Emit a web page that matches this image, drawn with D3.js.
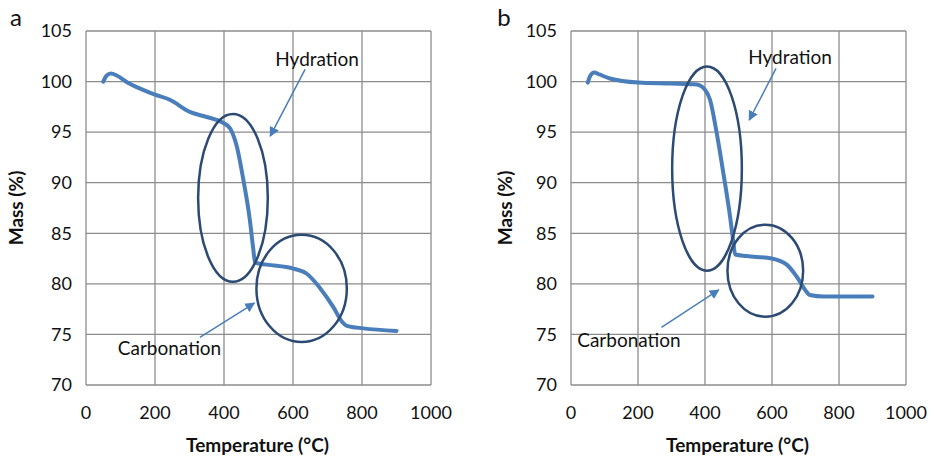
<!DOCTYPE html>
<html>
<head>
<meta charset="utf-8">
<script src="https://cdn.jsdelivr.net/npm/d3@7"></script>
<style>
  body { margin: 0; background: #fff; }
  svg { font-family: Lato, "Open Sans", sans-serif; }
</style>
</head>
<body>
<svg id="chart" width="934" height="459"></svg>
<script>
const xTicks = [0, 200, 400, 600, 800, 1000];
const yTicks = [70, 75, 80, 85, 90, 95, 100, 105];

// panel a: temperature (°C) and mass (%)
const tempA = [50, 60, 72, 89, 120, 157, 200, 243, 301, 350, 393, 417, 437, 456, 475, 485, 490, 524, 601, 640, 678, 717, 741, 756, 804, 900];
const massA = [100, 100.6, 100.8, 100.6, 99.9, 99.3, 98.7, 98.2, 97.0, 96.5, 96.0, 95.4, 93.6, 90.3, 86.3, 83.4, 82.1, 81.9, 81.5, 81.0, 79.6, 77.7, 76.3, 75.85, 75.6, 75.35];

// panel b
const tempB = [50, 58, 69, 85, 116, 201, 296, 375, 400, 415, 435, 455, 475, 484, 490, 524, 599, 644, 674, 699, 713, 753, 900];
const massB = [99.9, 100.6, 100.9, 100.7, 100.3, 99.9, 99.8, 99.7, 99.2, 98.2, 94.9, 90.9, 86.6, 84.3, 82.9, 82.75, 82.5, 81.9, 80.7, 79.4, 78.9, 78.75, 78.75];

// ellipses: [centre T, centre M, radius T, radius M]
const ringsA = [[426, 88.5, 101, 8.3], [625, 79.55, 131, 5.3]];
const ringsB = [[406, 91.4, 104, 10.1], [580, 81.3, 113, 4.55]];

// notes: text, text T, text M, arrow from [T, M] to [T, M]
const notesA = [
  ["Hydration", 670, 102.2, [635, 101.2], [534, 94.6]],
  ["Carbonation", 242, 73.6, [330, 74.7], [488, 78.1]]
];
const notesB = [
  ["Hydration", 654, 102.4, [612, 101.3], [532, 96.2]],
  ["Carbonation", 173, 74.4, [270, 75.7], [441, 79.4]]
];

const panels = [
  { tag: "a", left: 86, right: 431, t: tempA, m: massA, rings: ringsA, notes: notesA, tagX: 16, titleX: 4 },
  { tag: "b", left: 571, right: 906, t: tempB, m: massB, rings: ringsB, notes: notesB, tagX: 504, titleX: 493 }
];

const plotTop = 31, plotBottom = 385;
const grid = "#8c8c8c", lineCol = "#4a7ebb", ringCol = "#2c4a74";
const svg = d3.select("#chart");

svg.append("defs").append("marker")
  .attr("id", "arr")
  .attr("viewBox", "0 0 10 10")
  .attr("refX", 9).attr("refY", 5)
  .attr("markerWidth", 10).attr("markerHeight", 10)
  .attr("markerUnits", "userSpaceOnUse")
  .attr("orient", "auto")
  .append("path").attr("d", "M0,0L10,5L0,10z").attr("fill", lineCol);

panels.forEach(p => {
  const x = d3.scaleLinear().domain([0, 1000]).range([p.left, p.right]);
  const y = d3.scaleLinear().domain([70, 105]).range([plotBottom, plotTop]);
  const g = svg.append("g");

  g.selectAll(".vg").data(xTicks).enter().append("line")
    .attr("x1", d => x(d)).attr("x2", d => x(d))
    .attr("y1", plotTop).attr("y2", plotBottom)
    .attr("stroke", grid).attr("stroke-width", 1.3);
  g.selectAll(".hg").data(yTicks).enter().append("line")
    .attr("x1", p.left).attr("x2", p.right)
    .attr("y1", d => y(d)).attr("y2", d => y(d))
    .attr("stroke", grid).attr("stroke-width", 1.3);

  g.selectAll(".yl").data(yTicks).enter().append("text")
    .attr("x", p.left - 14).attr("y", d => y(d))
    .attr("dy", "0.35em").attr("text-anchor", "end")
    .attr("font-size", 18).attr("fill", "#111")
    .text(d => d);
  g.selectAll(".xl").data(xTicks).enter().append("text")
    .attr("x", d => x(d)).attr("y", plotBottom + 28)
    .attr("dy", "0.35em").attr("text-anchor", "middle")
    .attr("font-size", 18).attr("fill", "#111")
    .text(d => d);

  g.append("text")
    .attr("x", (p.left + p.right) / 2 - 1).attr("y", 445)
    .attr("dy", "0.35em").attr("text-anchor", "middle")
    .attr("font-size", 19).attr("font-weight", "bold").attr("fill", "#111")
    .text("Temperature (°C)");
  g.append("text")
    .attr("transform", `translate(${p.titleX + 12},208) rotate(-90)`)
    .attr("dy", "0.35em").attr("text-anchor", "middle")
    .attr("font-size", 19).attr("font-weight", "bold").attr("fill", "#111")
    .text("Mass (%)");
  g.append("text")
    .attr("x", p.tagX).attr("y", 18)
    .attr("dy", "0.35em").attr("text-anchor", "middle")
    .attr("font-size", 24).attr("fill", "#111")
    .text(p.tag);

  const line = d3.line().x(d => x(d[0])).y(d => y(d[1])).curve(d3.curveMonotoneX);
  g.append("path")
    .datum(p.t.map((t, i) => [t, p.m[i]]))
    .attr("d", line)
    .attr("fill", "none").attr("stroke", lineCol)
    .attr("stroke-width", 4).attr("stroke-linejoin", "round").attr("stroke-linecap", "round");

  g.selectAll(".ring").data(p.rings).enter().append("ellipse")
    .attr("cx", d => x(d[0])).attr("cy", d => y(d[1]))
    .attr("rx", d => x(d[2]) - x(0)).attr("ry", d => y(0) - y(d[3]))
    .attr("fill", "none").attr("stroke", ringCol).attr("stroke-width", 2.5);

  p.notes.forEach(n => {
    g.append("text")
      .attr("x", x(n[1])).attr("y", y(n[2]))
      .attr("dy", "0.35em").attr("text-anchor", "middle")
      .attr("font-size", 19).attr("fill", "#111")
      .text(n[0]);
    g.append("line")
      .attr("x1", x(n[3][0])).attr("y1", y(n[3][1]))
      .attr("x2", x(n[4][0])).attr("y2", y(n[4][1]))
      .attr("stroke", lineCol).attr("stroke-width", 1.5)
      .attr("marker-end", "url(#arr)");
  });
});
</script>
</body>
</html>
